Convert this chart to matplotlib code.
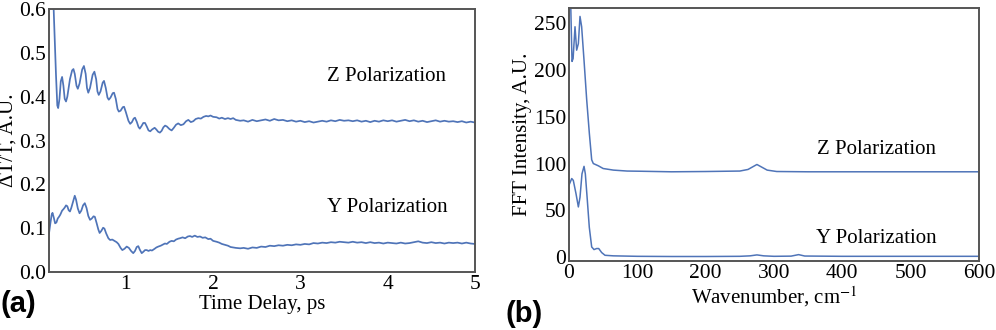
import matplotlib
matplotlib.use('Agg')
import matplotlib.pyplot as plt

plt.rcParams['font.family'] = ['Liberation Serif', 'DejaVu Serif']
plt.rcParams['mathtext.fontset'] = 'stix'

# panel (a): transient transmission, time delay in ps
t_z = [0.12, 0.20, 0.215, 0.225, 0.24, 0.255, 0.27, 0.285, 0.30, 0.315, 0.33, 0.36, 0.385,
       0.40, 0.415, 0.435, 0.45, 0.47, 0.50, 0.52, 0.54, 0.555, 0.57, 0.59, 0.62, 0.64,
       0.66, 0.675, 0.69, 0.71, 0.735, 0.75, 0.77, 0.79, 0.805, 0.825, 0.85, 0.865, 0.885,
       0.905, 0.92, 0.94, 0.965, 0.98, 1.00, 1.03, 1.05, 1.07, 1.09, 1.105, 1.125, 1.145,
       1.16, 1.18, 1.20, 1.22, 1.24, 1.26, 1.28, 1.30, 1.33, 1.35, 1.37, 1.39, 1.41, 1.43,
       1.45, 1.47, 1.50, 1.525, 1.55, 1.575, 1.60, 1.63, 1.66, 1.69, 1.716, 1.745, 1.773,
       1.80, 1.83, 1.86, 1.89, 1.92, 1.945, 1.97, 2.00, 2.04, 2.07, 2.10, 2.136, 2.17, 2.20,
       2.23, 2.26, 2.31]
z_pol = [0.90, 0.45, 0.380, 0.374, 0.395, 0.435, 0.445, 0.425, 0.395, 0.389, 0.400, 0.440, 0.460,
         0.463, 0.452, 0.425, 0.418, 0.430, 0.462, 0.470, 0.452, 0.420, 0.409, 0.420, 0.450, 0.457,
         0.440, 0.412, 0.404, 0.412, 0.432, 0.436, 0.420, 0.398, 0.393, 0.398, 0.408, 0.409, 0.395,
         0.372, 0.366, 0.368, 0.376, 0.377, 0.365, 0.345, 0.338, 0.342, 0.350, 0.352, 0.343, 0.331,
         0.327, 0.333, 0.340, 0.340, 0.332, 0.323, 0.321, 0.325, 0.329, 0.325, 0.320, 0.318, 0.322, 0.330,
         0.334, 0.332, 0.326, 0.323, 0.329, 0.336, 0.339, 0.335, 0.337, 0.344, 0.347, 0.342, 0.344,
         0.349, 0.351, 0.350, 0.354, 0.356, 0.355, 0.357, 0.354, 0.353, 0.350, 0.352, 0.349, 0.351, 0.349,
         0.351, 0.347, 0.345]
t_y = [0.12, 0.135, 0.15, 0.16, 0.175, 0.19, 0.205, 0.22, 0.235, 0.25, 0.27, 0.284, 0.30,
       0.315, 0.33, 0.345, 0.36, 0.375, 0.395, 0.415, 0.43, 0.45, 0.47, 0.49, 0.51, 0.53,
       0.55, 0.57, 0.59, 0.61, 0.63, 0.645, 0.665, 0.685, 0.70, 0.72, 0.74, 0.755, 0.775,
       0.80, 0.82, 0.845, 0.87, 0.895, 0.915, 0.94, 0.96, 0.985, 1.01, 1.035, 1.06, 1.085,
       1.105, 1.125, 1.143, 1.16, 1.182, 1.20, 1.22, 1.239, 1.26, 1.28, 1.30, 1.33, 1.35,
       1.372, 1.40, 1.42, 1.448, 1.47, 1.50, 1.525, 1.55, 1.575, 1.60, 1.62, 1.65, 1.68,
       1.71, 1.735, 1.76, 1.79, 1.82, 1.85, 1.88, 1.91, 1.945, 1.97, 2.00, 2.04, 2.07, 2.10,
       2.136, 2.17, 2.20, 2.23, 2.26, 2.31]
y_pol = [0.088, 0.110, 0.130, 0.135, 0.124, 0.111, 0.113, 0.122, 0.126, 0.131, 0.140, 0.143, 0.147,
         0.152, 0.150, 0.141, 0.138, 0.146, 0.160, 0.174, 0.165, 0.145, 0.134, 0.140, 0.152, 0.157,
         0.146, 0.128, 0.119, 0.122, 0.127, 0.126, 0.112, 0.097, 0.089, 0.094, 0.101, 0.099, 0.088,
         0.077, 0.073, 0.074, 0.071, 0.068, 0.064, 0.055, 0.050, 0.053, 0.058, 0.055, 0.048, 0.043,
         0.048, 0.057, 0.059, 0.051, 0.043, 0.046, 0.050, 0.050, 0.048, 0.050, 0.049, 0.053, 0.056,
         0.058, 0.060, 0.062, 0.065, 0.064, 0.069, 0.071, 0.070, 0.074, 0.076, 0.077, 0.079, 0.077,
         0.081, 0.082, 0.080, 0.083, 0.080, 0.081, 0.078, 0.079, 0.075, 0.076, 0.071, 0.069, 0.067, 0.064,
         0.062, 0.060, 0.057, 0.056, 0.055, 0.054]
t_tail = [2.35, 2.40, 2.45, 2.50, 2.55, 2.60, 2.65, 2.70, 2.75, 2.80, 2.85, 2.90, 2.95,
          3.00, 3.05, 3.10, 3.15, 3.20, 3.25, 3.30, 3.35, 3.40, 3.45, 3.50, 3.55, 3.60,
          3.65, 3.70, 3.75, 3.80, 3.85, 3.90, 3.95, 4.00, 4.05, 4.10, 4.15, 4.20, 4.25,
          4.30, 4.35, 4.40, 4.45, 4.50, 4.55, 4.60, 4.65, 4.70, 4.75, 4.80, 4.85, 4.90,
          4.95, 5.00]
z_tail = [0.346, 0.343, 0.347, 0.344, 0.346, 0.348, 0.345, 0.349, 0.346, 0.347, 0.344, 0.346,
          0.343, 0.345, 0.342, 0.344, 0.341, 0.343, 0.345, 0.343, 0.346, 0.344, 0.347, 0.345,
          0.346, 0.344, 0.346, 0.343, 0.345, 0.342, 0.345, 0.343, 0.346, 0.344, 0.346, 0.343,
          0.345, 0.347, 0.344, 0.346, 0.343, 0.345, 0.342, 0.344, 0.346, 0.343, 0.345, 0.343,
          0.344, 0.342, 0.344, 0.341, 0.343, 0.341]
y_tail = [0.055, 0.053, 0.056, 0.055, 0.058, 0.057, 0.060, 0.059, 0.061, 0.060, 0.062, 0.061,
          0.063, 0.062, 0.064, 0.063, 0.066, 0.065, 0.067, 0.066, 0.068, 0.067, 0.069, 0.068,
          0.067, 0.069, 0.067, 0.068, 0.066, 0.068, 0.066, 0.067, 0.065, 0.067, 0.066, 0.065,
          0.067, 0.065, 0.066, 0.068, 0.070, 0.067, 0.066, 0.068, 0.066, 0.067, 0.065, 0.067,
          0.066, 0.067, 0.065, 0.067, 0.065, 0.064]

# panel (b): FFT spectra, wavenumber in cm-1
w_z = [0, 2.5, 4.4, 6, 8.8, 11.2, 13.7, 16.1, 18.5, 22, 25.9, 29.8, 33.2, 35.6, 42.9, 50,
       65, 85, 104, 150, 200, 250, 262, 275, 290, 304, 350, 400, 450, 500, 550, 600]
fft_z = [300, 270, 209, 212, 246, 221, 228, 257, 246, 210, 168, 132, 104, 100, 97.6, 94.7,
         93, 92, 91.8, 91.2, 91.5, 92, 93.7, 99, 93, 91.5, 91.2, 91.2, 91.2, 91.2, 91.2, 91.2]
w_y = [0, 4, 6.3, 10.2, 13.7, 16.1, 19, 22, 23.9, 26.8, 29.7, 33.2, 36.6, 40.5, 43.5, 47.8,
       52.7, 65, 100, 150, 200, 250, 265, 275, 285, 300, 325, 336, 345, 400, 500, 600]
fft_y = [77, 84, 82, 68, 53.7, 64, 89, 97, 89, 61, 32, 11, 8.2, 9.3, 9.3, 5,
         2.1, 1.5, 1.0, 0.8, 0.8, 1.0, 1.5, 2.5, 1.5, 1.0, 1.2, 2.8, 1.3, 1.0, 1.0, 1.0]

blue = '#4f74b8'
fs = 15

fig = plt.figure(figsize=(9.96, 3.3), dpi=100)
ax1 = fig.add_axes([49/996, 58/330, 426/996, 263/330])
ax2 = fig.add_axes([569/996, 69/330, 410/996, 253/330])

ax1.plot(t_z + t_tail, z_pol + z_tail, color=blue, lw=1.25)
ax1.plot(t_y + t_tail, y_pol + y_tail, color=blue, lw=1.25)
ax1.set_xlim(0.12, 5)
ax1.set_ylim(0, 0.6)
ax1.set_xticks([1, 2, 3, 4, 5])
ax1.set_yticks([0, 0.1, 0.2, 0.3, 0.4, 0.5, 0.6])
ax1.set_yticklabels(['0.0', '0.1', '0.2', '0.3', '0.4', '0.5', '0.6'])
ax1.set_xlabel('Time Delay, ps', fontsize=fs, labelpad=1)
ax1.set_ylabel('ΔT/T, A.U.', fontsize=fs, labelpad=1)
ax1.text(3.99, 0.447, 'Z Polarization', fontsize=fs, ha='center', va='center')
ax1.text(3.99, 0.148, 'Y Polarization', fontsize=fs, ha='center', va='center')

ax2.plot(w_z, fft_z, color=blue, lw=1.1)
ax2.plot(w_y, fft_y, color=blue, lw=1.1)
ax2.set_xlim(0, 600)
ax2.set_ylim(-4, 266)
ax2.set_xticks([0, 100, 200, 300, 400, 500, 600])
ax2.set_yticks([0, 50, 100, 150, 200, 250])
ax2.set_xlabel('Wavenumber, cm$^{-1}$', fontsize=fs, labelpad=1)
ax2.set_ylabel('FFT Intensity, A.U.', fontsize=fs, labelpad=1)
ax2.text(450, 115, 'Z Polarization', fontsize=fs, ha='center', va='center')
ax2.text(450, 20, 'Y Polarization', fontsize=fs, ha='center', va='center')

for ax in (ax1, ax2):
    ax.tick_params(length=0, labelsize=15.5, pad=2)
    for s in ax.spines.values():
        s.set_color('#555555')
        s.set_linewidth(1.4)

fig.text(1/996, 1 - 304/330, '(a)', fontsize=21, fontweight='bold',
         family='Liberation Sans', va='center', ha='left')
fig.text(505/996, 1 - 314/330, '(b)', fontsize=21, fontweight='bold',
         family='Liberation Sans', va='center', ha='left')

fig.savefig('out.png', dpi=100)
